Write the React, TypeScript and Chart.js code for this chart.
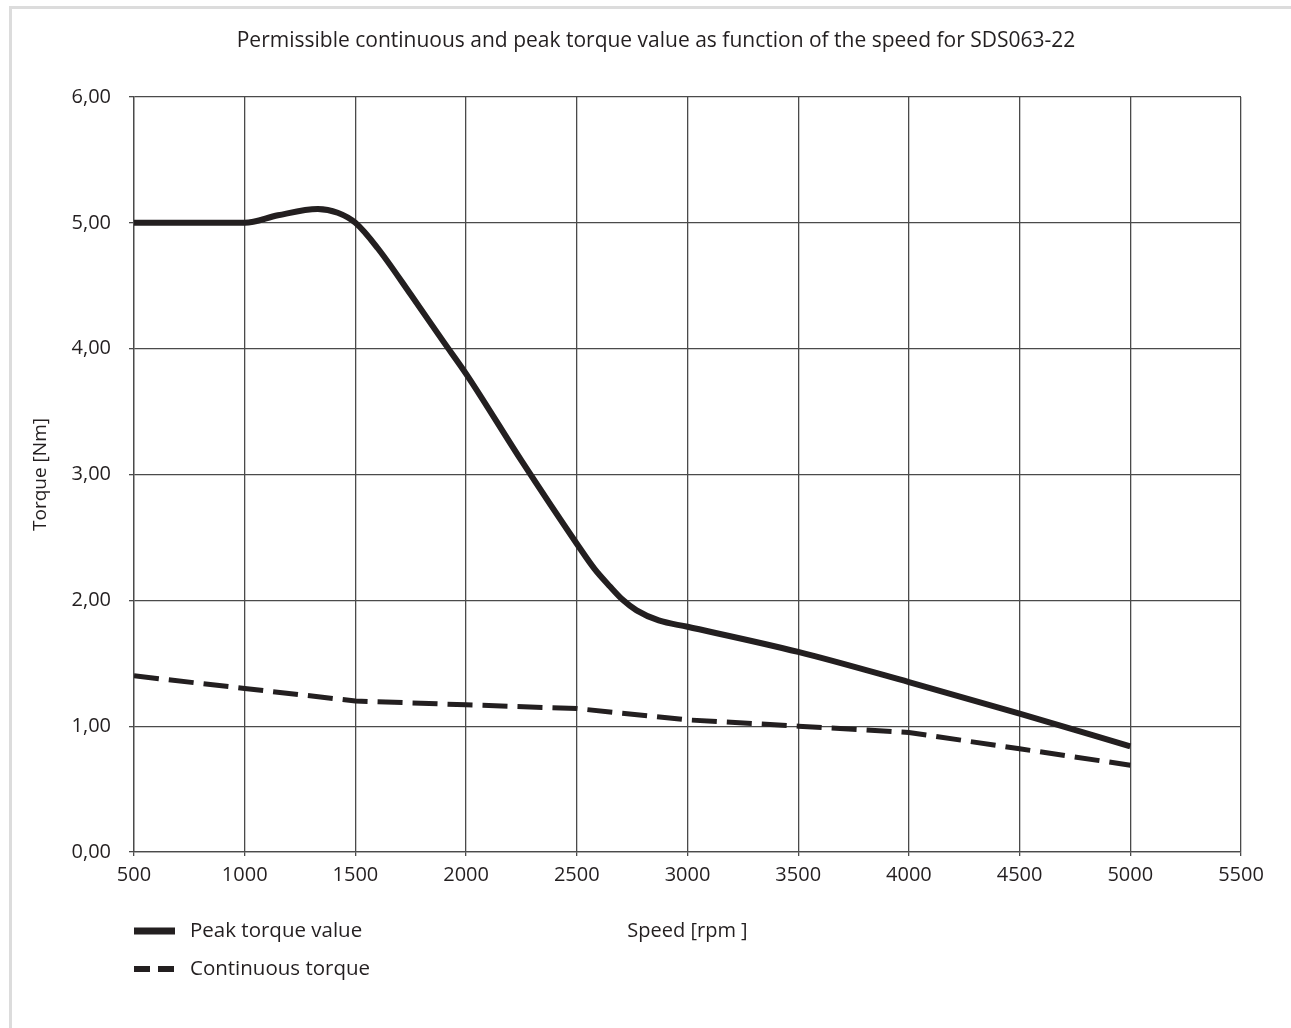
import React, { useEffect, useRef } from "react";
import { Chart, registerables } from "chart.js";

Chart.register(...registerables);

const chartTitle = "Permissible continuous and peak torque value as function of the speed for SDS063-22";
const xAxisTitle = "Speed [rpm ]";
const yAxisTitle = "Torque [Nm]";

const xTickValues = [500, 1000, 1500, 2000, 2500, 3000, 3500, 4000, 4500, 5000, 5500];
const yTickValues = [0, 1, 2, 3, 4, 5, 6];
const yTickLabels = ["0,00", "1,00", "2,00", "3,00", "4,00", "5,00", "6,00"];

const peakLabel = "Peak torque value";
const peakSpeed = [500, 1000, 1150, 1330, 1420, 1500, 1600, 1750, 1900, 2000, 2250, 2500, 2580, 2650, 2710, 2770, 2870, 3000, 3500, 4000, 4500, 5000];
const peakTorque = [5.0, 5.0, 5.06, 5.11, 5.08, 5.0, 4.8, 4.43, 4.05, 3.8, 3.11, 2.45, 2.25, 2.11, 2.0, 1.92, 1.84, 1.79, 1.59, 1.35, 1.1, 0.84];

const contLabel = "Continuous torque";
const contSpeed = [500, 1000, 1500, 2000, 2500, 3000, 3500, 4000, 4500, 5000];
const contTorque = [1.4, 1.3, 1.2, 1.17, 1.14, 1.05, 1.0, 0.95, 0.82, 0.69];

const INK = "#231f20";
const GRID = "#4a4a4a";
const FONT = "'Open Sans', 'Noto Sans', sans-serif";

const titleLegendPlugin = {
  id: "titleLegend",
  afterDraw(chart: any) {
    const ctx = chart.ctx;
    const area = chart.chartArea;
    ctx.save();
    ctx.fillStyle = INK;
    ctx.font = `21px ${FONT}`;
    ctx.textAlign = "center";
    ctx.textBaseline = "middle";
    ctx.fillText(chartTitle, 656, 41);

    const legendDash = [[], [16, 8]];
    const legendWidth = [7, 6];
    chart.data.datasets.forEach((ds: any, i: number) => {
      const y = 931 + i * 38;
      ctx.beginPath();
      ctx.setLineDash(legendDash[i]);
      ctx.lineWidth = legendWidth[i];
      ctx.strokeStyle = ds.borderColor;
      ctx.moveTo(area.left, y);
      ctx.lineTo(area.left + 41, y);
      ctx.stroke();
      ctx.setLineDash([]);
      ctx.font = `20.5px ${FONT}`;
      ctx.textAlign = "left";
      ctx.textBaseline = "middle";
      ctx.fillStyle = INK;
      ctx.fillText(ds.label, area.left + 56, y);
    });
    ctx.restore();
  },
};

export default function App() {
  const ref = useRef<HTMLCanvasElement | null>(null);

  useEffect(() => {
    if (!ref.current) return;
    const chart = new Chart(ref.current, {
      type: "line",
      data: {
        datasets: [
          {
            label: peakLabel,
            data: peakSpeed.map((s, i) => ({ x: s, y: peakTorque[i] })),
            borderColor: INK,
            borderWidth: 6,
            pointRadius: 0,
            cubicInterpolationMode: "monotone",
            fill: false,
          },
          {
            label: contLabel,
            data: contSpeed.map((s, i) => ({ x: s, y: contTorque[i] })),
            borderColor: INK,
            borderWidth: 5,
            borderDash: [25, 10],
            pointRadius: 0,
            tension: 0,
            fill: false,
          },
        ],
      },
      options: {
        responsive: false,
        animation: false,
        devicePixelRatio: 1,
        layout: { padding: { top: 97, left: 29, right: 50, bottom: 56 } },
        plugins: {
          legend: { display: false },
          title: { display: false },
          tooltip: { enabled: false },
        },
        scales: {
          x: {
            type: "linear",
            min: 500,
            max: 5500,
            afterBuildTicks: (scale: any) => {
              scale.ticks = xTickValues.map((v) => ({ value: v }));
            },
            afterFit: (scale: any) => {
              scale.height = 120;
            },
            ticks: {
              color: INK,
              font: { family: FONT, size: 20 },
              padding: 7,
              maxRotation: 0,
              autoSkip: false,
              callback: (v: any) => String(v),
            },
            grid: { color: GRID, lineWidth: 1.3, tickLength: 4 },
            border: { color: GRID, width: 1.3 },
            title: {
              display: true,
              text: xAxisTitle,
              color: INK,
              font: { family: FONT, size: 20 },
              padding: { top: 0, bottom: 29 },
            },
          },
          y: {
            type: "linear",
            min: 0,
            max: 6,
            afterBuildTicks: (scale: any) => {
              scale.ticks = yTickValues.map((v) => ({ value: v }));
            },
            afterFit: (scale: any) => {
              scale.width = 105;
            },
            ticks: {
              color: INK,
              font: { family: FONT, size: 20 },
              padding: 18,
              callback: (v: any) => yTickLabels[yTickValues.indexOf(Number(v))] ?? "",
            },
            grid: { color: GRID, lineWidth: 1.3, tickLength: 5 },
            border: { color: GRID, width: 1.3 },
            title: {
              display: true,
              text: yAxisTitle,
              color: INK,
              font: { family: FONT, size: 19 },
              padding: { top: 0, bottom: 0 },
            },
          },
        },
      },
      plugins: [titleLegendPlugin],
    } as any);
    return () => chart.destroy();
  }, []);

  return (
    <div
      style={{
        position: "fixed",
        left: 0,
        top: 0,
        width: 1291,
        height: 1028,
        overflow: "hidden",
        background: "#ffffff",
      }}
    >
      <div
        style={{
          position: "absolute",
          left: 9,
          top: 6,
          width: 1279,
          height: 1100,
          borderTop: "3px solid #dcdcdc",
          borderLeft: "3px solid #dcdcdc",
          borderRight: "3px solid #dcdcdc",
        }}
      />
      <canvas
        ref={ref}
        width={1291}
        height={1028}
        style={{ position: "absolute", left: 0, top: 0, width: 1291, height: 1028 }}
      />
    </div>
  );
}
